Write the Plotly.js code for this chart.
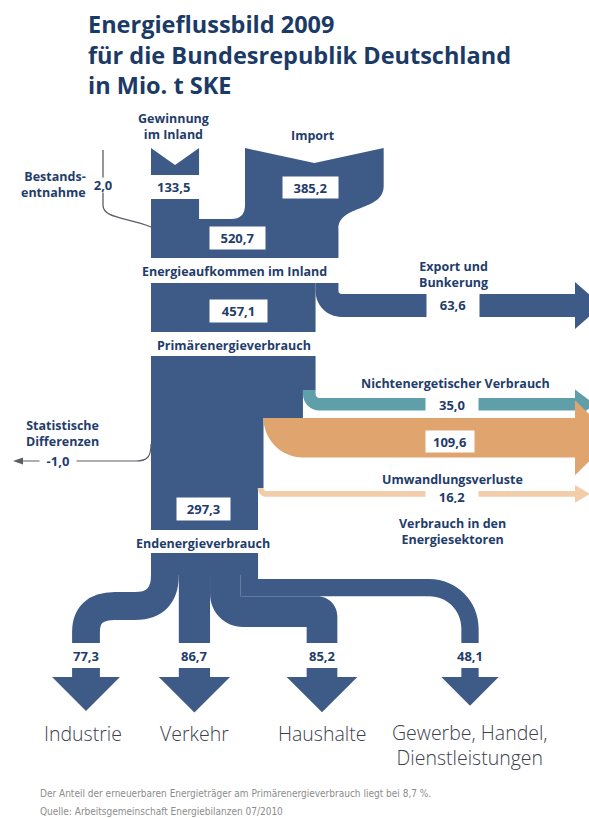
<!DOCTYPE html>
<html><head><meta charset="utf-8">
<script src="https://cdn.plot.ly/plotly-3.0.1.min.js"></script>
<style>html,body{margin:0;padding:0;background:#fff}#chart{width:589px;height:818px}</style>
</head><body><div id="chart"></div>
<script>
// ---------------- DATA ----------------
const sourceLabels = ['Bestands-<br>entnahme', 'Gewinnung<br>im Inland', 'Import'];
const sourceValues = [2.0, 133.5, 385.2];
const stageLabels = ['Energieaufkommen im Inland', 'Primärenergieverbrauch', 'Endenergieverbrauch'];
const stageValues = [520.7, 457.1, 297.3];
const outflowLabels = ['Export und<br>Bunkerung', 'Nichtenergetischer Verbrauch', 'Umwandlungsverluste', 'Verbrauch in den<br>Energiesektoren', 'Statistische<br>Differenzen'];
const outflowValues = [63.6, 35.0, 109.6, 16.2, -1.0];
const sectorLabels = ['Industrie', 'Verkehr', 'Haushalte', 'Gewerbe, Handel,<br>Dienstleistungen'];
const sectorValues = [77.3, 86.7, 85.2, 48.1];
const titleLines = ['Energieflussbild 2009', 'für die Bundesrepublik Deutschland', 'in Mio. t SKE'];
const footnotes = ['Der Anteil der erneuerbaren Energieträger am Primärenergieverbrauch liegt bei 8,7 %.', 'Quelle: Arbeitsgemeinschaft Energiebilanzen 07/2010'];

// ---------------- STYLE / GEOMETRY HELPERS ----------------
const K = 0.36;                       // px per Mio. t SKE
const w = v => Math.abs(v) * K;
const fmt = v => v.toFixed(1).replace('.', ',');
const KAP = 0.5523;
const C = {dark:'#3e5b88', teal:'#5e9fa9', orange:'#e0a46e', light:'#f2cda9',
           text:'#1f3d6b', line:'#5a5f66', cat:'#3b404c', foot:'#8c8c8c', title:'#1b3a66'};
const shapes = [], annotations = [];
const r2 = n => Math.round(n * 100) / 100;
function path(strs, ...vals){ let s = strs[0]; vals.forEach((v,i)=>{ s += (typeof v === 'number' ? r2(v) : v) + strs[i+1]; }); return s; }
function fill(p, color){ shapes.push({type:'path', xref:'x', yref:'y', path:p, fillcolor:color, line:{width:0}}); }
function strokeP(p, color, width){ shapes.push({type:'path', xref:'x', yref:'y', path:p, fillcolor:'rgba(0,0,0,0)', line:{color, width}}); }
function rect(x0,y0,x1,y1,color){ shapes.push({type:'rect', xref:'x', yref:'y', x0,y0,x1,y1, fillcolor:color, line:{width:0}}); }
function txt(x, y, text, o){
  o = o || {};
  const a = {x, y, xref:'x', yref:'y', text, showarrow:false, xanchor:o.xanchor||'center', yanchor:'middle',
    align:o.align||'center',
    font:{family:o.family||'Open Sans, sans-serif', size:o.size||12.5, color:o.color||C.text, weight:o.weight===undefined?700:o.weight}};
  if (o.box){ a.bgcolor = '#ffffff'; a.width = o.box[0]; a.height = o.box[1]; a.borderpad = 0; }
  annotations.push(a);
}
function branchRight(xa, xb, y0, yTop, ri, xEndBand){
  const bw = xb - xa, ro = ri + bw, yb = yTop + bw;
  return path`M ${xa} ${y0} L ${xb} ${y0} L ${xb} ${yTop-ri} C ${xb} ${yTop-ri+KAP*ri} ${xb+ri-KAP*ri} ${yTop} ${xb+ri} ${yTop} L ${xEndBand} ${yTop} L ${xEndBand} ${yb} L ${xb+ri} ${yb} C ${xb+ri-KAP*ro} ${yb} ${xa} ${yTop-ri+KAP*ro} ${xa} ${yTop-ri} Z`;
}
const AX = 575;
function arrowRight(yc, bw, color){ const h = 0.85*bw + 4; fill(path`M ${AX} ${yc-h} L ${AX+0.8*h+8} ${yc} L ${AX} ${yc+h} Z`, color); }

// ---------------- TOP: SOURCES -> ENERGIEAUFKOMMEN ----------------
const X0 = 151;
const [wB, wG, wI] = sourceValues.map(w);
const [wA, wP, wEnd] = stageValues.map(w);
const [wEx, wN, wU, wL, wS] = outflowValues.map(w);
const xAr = X0 + wA, xI0 = 245;
fill(path`M ${X0} 148 L ${X0+wG/2} 165 L ${X0+wG} 148 L ${X0+wG} 175 L ${X0} 175 Z`, C.dark);
fill(path`M ${X0} 199 L ${X0+wG} 199 L ${X0+wG} 219 L ${xI0-14} 219 Q ${xI0} 219 ${xI0} 205 L ${xI0} 148 L ${xI0+wI/2} 163 L ${xI0+wI} 148 L ${xI0+wI} 186 C ${xI0+wI} 212 ${xAr} 204 ${xAr} 229 L ${xAr} 258 L ${X0} 258 Z`, C.dark);
strokeP(path`M 103 150 L 103 205 C 103 219 128 217 ${X0} 227`, C.line, 1.3);

// ---------------- PRIMAER + EXPORT ----------------
const xPr = X0 + wP;
rect(X0, 283, xPr, 332, C.dark);
const yEt = 294;
fill(branchRight(xPr, xAr, 283, yEt, 3, AX+2), C.dark);
arrowRight(yEt + wEx/2, wEx, C.dark);

// ---------------- PRIMAER -> ENDENERGIE ----------------
const yN0 = 390, yNt = 398, yU0 = 418, yL0 = 488, yLt = 491;
const xN = xPr - wN, xU = xN - wU, xL = xU - wL, xEnd = X0 + wEnd;
fill(path`M ${X0} 356 L ${xPr} 356 L ${xPr} ${yN0} L ${xN} ${yN0} L ${xN} ${yU0} L ${xU} ${yU0} L ${xU} ${yL0} L ${xEnd} ${yL0} L ${xEnd} 530 L ${X0} 530 Z`, C.dark);
fill(branchRight(xN, xPr, yN0, yNt, 4, AX+2), C.teal);
arrowRight(yNt + wN/2, wN, C.teal);
fill(branchRight(xU, xN, yU0, yU0, 0, AX+2), C.orange);
arrowRight(yU0 + wU/2, wU, C.orange);
fill(branchRight(xL, xU, yL0, yLt, 3, AX+2), C.light);
arrowRight(yLt + wL/2, wL, C.light);
// statistische Differenzen (thin line)
strokeP(path`M ${X0} 444 C ${X0} 456 ${X0-3} 461 ${X0-15} 461 L 20 461`, C.line, 1.2);
fill('M 23 457.5 L 13 461 L 23 464.5 Z', C.line);

// ---------------- ENDENERGIE -> SECTORS ----------------
const yB = 553, yStem = 643, yStub = 668, yTri = 677;
const [wSI, wSV, wSH, wSG] = sectorValues.map(w);
const a0 = X0, a1 = a0 + wSI, a2 = a1 + wSV, a3 = a2 + wSH, a4 = a3 + wSG;
const cx = [86, (a1 + a2) / 2, 322, 470];
rect(a0, yB, a4, 575, C.dark);
const ci0 = (a0 + a1) / 2;
strokeP(path`M ${ci0} ${yB} L ${ci0} 575 Q ${ci0} 606 ${ci0-30} 606 L ${cx[0]+29} 606 Q ${cx[0]} 606 ${cx[0]} 632 L ${cx[0]} ${yStem}`, C.dark, wSI);
rect(a1, yB, a2, yStem, C.dark);
{
  // Gewerbe, Handel, Dienstleistungen
  const yGt = 579, yGb = yGt + wSG, xr = cx[3] + wSG/2, xl = cx[3] - wSG/2, Ri = 32, Ro = Ri + wSG;
  fill(path`M ${a3} ${yB} L ${a4} ${yB} L ${a4} ${yGt} L ${xr-Ro} ${yGt} C ${xr-Ro+KAP*Ro} ${yGt} ${xr} ${yGt+Ro-KAP*Ro} ${xr} ${yGt+Ro} L ${xr} ${yStem} L ${xl} ${yStem} L ${xl} ${yGb+Ri} C ${xl} ${yGb+Ri-KAP*Ri} ${xl-Ri+KAP*Ri} ${yGb} ${xl-Ri} ${yGb} L ${a3} ${yGb} Z`, C.dark);
  // Haushalte
  const yHt = yGb, yHb = yHt + wSH, hr = cx[2] + wSH/2, hl = cx[2] - wSH/2, R1 = 20, RL = 33;
  fill(path`M ${a2} ${yB} L ${a3} ${yB} L ${a3} ${yHt} L ${hr-R1} ${yHt} C ${hr-R1+KAP*R1} ${yHt} ${hr} ${yHt+R1-KAP*R1} ${hr} ${yHt+R1} L ${hr} ${yStem} L ${hl} ${yStem} L ${hl} ${yHb} L ${a2+RL} ${yHb} C ${a2+RL-KAP*RL} ${yHb} ${a2} ${yHb-RL+KAP*RL} ${a2} ${yHb-RL} Z`, C.dark);
}
sectorValues.forEach((v, i) => {
  const bw = w(v), c = cx[i], h = bw/2 + 20;
  fill(path`M ${c-bw/2} ${yStub} L ${c+bw/2} ${yStub} L ${c+bw/2} ${yTri} L ${c+h} ${yTri} L ${c} ${yTri+h} L ${c-h} ${yTri} L ${c-bw/2} ${yTri} Z`, C.dark);
  txt(c, 656, fmt(v), {size:13});
});

// ---------------- TEXT ----------------
txt(86, 54, titleLines.join('<br>'), {xanchor:'left', align:'left', size:23.5, color:C.title});
txt(173, 126.5, sourceLabels[1]);
txt(312.5, 135, sourceLabels[2]);
txt(88, 184, sourceLabels[0], {xanchor:'right', align:'right'});
txt(103, 185, fmt(sourceValues[0]), {box:[18, 14], size:13});
txt(173, 187, fmt(sourceValues[1]), {size:13});
txt(310.5, 187.5, fmt(sourceValues[2]), {box:[55, 21], size:13});
txt(237.5, 238, fmt(stageValues[0]), {box:[55, 22], size:13});
txt(234, 271, stageLabels[0]);
txt(238.5, 311, fmt(stageValues[1]), {box:[57, 22], size:13});
txt(234, 345, stageLabels[1]);
txt(453, 274, outflowLabels[0]);
txt(453, yEt + wEx/2, fmt(outflowValues[0]), {box:[52, 28], size:13});
txt(455, 383, outflowLabels[1]);
txt(452, yNt + wN/2, fmt(outflowValues[1]), {box:[52, 17], size:13});
txt(450, yU0 + wU/2 + 4, fmt(outflowValues[2]), {box:[48, 21], size:13});
txt(452, 479, outflowLabels[2]);
txt(452, yLt + wL/2 + 3, fmt(outflowValues[3]), {box:[52, 13], size:13});
txt(452, 531, outflowLabels[3]);
txt(62, 433.5, outflowLabels[4]);
txt(58, 461, fmt(outflowValues[4]), {box:[36, 14], size:13});
txt(203.5, 509, fmt(stageValues[2]), {box:[53, 22], size:13});
txt(203, 543, stageLabels[2]);
const catY = [733, 733, 733, 745];
sectorLabels.forEach((s, i) => txt(cx[i] + (i === 0 ? -3 : 0), catY[i], s, {size:19.5, weight:300, color:C.cat}));
footnotes.forEach((s, i) => txt(38, 793 + i*18, s, {xanchor:'left', size:10, weight:400, color:C.foot,
  family:'Liberation Sans Narrow, DejaVu Sans Condensed, Arial Narrow, sans-serif'}));

// ---------------- PLOT ----------------
const layout = {
  width:589, height:818, margin:{l:0, r:0, t:0, b:0},
  paper_bgcolor:'#ffffff', plot_bgcolor:'#ffffff', showlegend:false,
  xaxis:{range:[0,589], visible:false, fixedrange:true},
  yaxis:{range:[818,0], visible:false, fixedrange:true},
  shapes, annotations
};
Plotly.newPlot('chart', [{x:[0], y:[0], mode:'markers', marker:{opacity:0}, hoverinfo:'skip', showlegend:false}], layout, {displayModeBar:false, staticPlot:true});
</script>
</body></html>
